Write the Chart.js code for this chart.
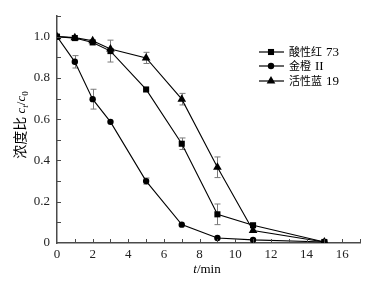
<!DOCTYPE html>
<html>
<head>
<meta charset="utf-8">
<script src="https://cdn.jsdelivr.net/npm/chart.js@4.4.0/dist/chart.umd.min.js"></script>
<style>
  body { margin: 0; background: #fff; }
  #grafico { display: block; }
</style>
</head>
<body>
<canvas id="grafico" width="372" height="283"></canvas>
<script>
// tempo (min)
var tempos = [0, 1, 2, 3, 5, 7, 9, 11, 15];

// c_t/c_0 de cada corante
var acidoVermelho73 = [1.0, 0.993, 0.972, 0.93, 0.744, 0.481, 0.139, 0.086, 0.005];
var laranjaII = [1.0, 0.878, 0.697, 0.587, 0.30, 0.089, 0.024, 0.015, 0.005];
var azulReativo19 = [1.0, 0.995, 0.98, 0.94, 0.897, 0.697, 0.367, 0.06, 0.005];

// barras de erro (0 = sem barra)
var erroVermelho = [0, 0, 0, 0.053, 0, 0.028, 0.05, 0, 0];
var erroLaranja = [0, 0.03, 0.048, 0, 0.015, 0, 0, 0, 0];
var erroAzul = [0, 0, 0, 0, 0.027, 0.028, 0.05, 0, 0];

// nome do corante em duas partes: chinês + número
var nomesCJK = ["酸性红", "金橙", "活性蓝"];
var nomesNum = ["73", "II", "19"];
var ticksX = [0, 2, 4, 6, 8, 10, 12, 14, 16];
var ticksY = [0, 0.2, 0.4, 0.6, 0.8, 1.0];

var series = [
  { valores: acidoVermelho73, erro: erroVermelho, estilo: "rect", raio: 4.3 },
  { valores: laranjaII, erro: erroLaranja, estilo: "circle", raio: 3.2 },
  { valores: azulReativo19, erro: erroAzul, estilo: "triangle", raio: 5 },
];

var corEixo = "#4a4a4a";

function pontos(valores) {
  var lista = [];
  for (var i = 0; i < tempos.length; i++) {
    lista.push({ x: tempos[i], y: valores[i] });
  }
  return lista;
}

function desenharMarcador(ctx, estilo, r, x, y) {
  ctx.beginPath();
  if (estilo == "rect") {
    var s = r * Math.SQRT1_2;
    ctx.rect(x - s, y - s, 2 * s, 2 * s);
  } else if (estilo == "circle") {
    ctx.arc(x, y, r, 0, Math.PI * 2);
  } else {
    ctx.moveTo(x, y - r);
    ctx.lineTo(x + r * 0.866, y + r / 2);
    ctx.lineTo(x - r * 0.866, y + r / 2);
    ctx.closePath();
  }
  ctx.fill();
}

var pluginExtras = {
  id: "extras",
  beforeDatasetsDraw: function (chart) {
    var ctx = chart.ctx;
    var sx = chart.scales.x;
    var sy = chart.scales.y;
    ctx.save();
    ctx.strokeStyle = "#7a7a7a";
    ctx.lineWidth = 1;
    for (var s = 0; s < series.length; s++) {
      for (var i = 0; i < tempos.length; i++) {
        var e = series[s].erro[i];
        if (!e) continue;
        var px = Math.round(sx.getPixelForValue(tempos[i])) + 0.5;
        var topo = sy.getPixelForValue(series[s].valores[i] + e);
        var base = sy.getPixelForValue(series[s].valores[i] - e);
        ctx.beginPath();
        ctx.moveTo(px, topo);
        ctx.lineTo(px, base);
        ctx.moveTo(px - 3, topo);
        ctx.lineTo(px + 3, topo);
        ctx.moveTo(px - 3, base);
        ctx.lineTo(px + 3, base);
        ctx.stroke();
      }
    }
    ctx.restore();
  },
  afterDraw: function (chart) {
    var ctx = chart.ctx;
    var sx = chart.scales.x;
    var sy = chart.scales.y;
    var area = chart.chartArea;
    ctx.save();

    // ticks para dentro
    ctx.strokeStyle = corEixo;
    ctx.lineWidth = 1;
    ctx.beginPath();
    for (var t = 1; t <= 17; t++) {
      var px = Math.round(sx.getPixelForValue(t)) + 0.5;
      ctx.moveTo(px, area.bottom);
      ctx.lineTo(px, area.bottom - 4);
    }
    for (var k = 1; k <= 11; k++) {
      var py = Math.round(sy.getPixelForValue(k / 10)) + 0.5;
      ctx.moveTo(area.left, py);
      ctx.lineTo(area.left + 4, py);
    }
    ctx.stroke();

    // legenda
    ctx.fillStyle = "#000";
    ctx.strokeStyle = "#000";
    ctx.textBaseline = "middle";
    var linhas = [52, 66, 81];
    for (var s = 0; s < series.length; s++) {
      var y = linhas[s];
      ctx.lineWidth = 1.2;
      ctx.beginPath();
      ctx.moveTo(259, y);
      ctx.lineTo(284, y);
      ctx.stroke();
      desenharMarcador(ctx, series[s].estilo, series[s].raio, 271, y);
      ctx.font = '11px "Noto Sans CJK SC", sans-serif';
      ctx.fillText(nomesCJK[s], 289, y);
      var wc = ctx.measureText(nomesCJK[s]).width;
      ctx.font = '13px "Liberation Serif", serif';
      ctx.fillText(nomesNum[s], 289 + wc + 4, y + 1);
    }

    // titulo eixo x: t/min
    ctx.textBaseline = "alphabetic";
    ctx.font = 'italic 13px "Liberation Serif", serif';
    var w1 = ctx.measureText("t").width;
    ctx.font = '13px "Liberation Serif", serif';
    var w2 = ctx.measureText("/min").width;
    var xi = 207 - (w1 + w2) / 2;
    ctx.font = 'italic 13px "Liberation Serif", serif';
    ctx.fillText("t", xi, 273);
    ctx.font = '13px "Liberation Serif", serif';
    ctx.fillText("/min", xi + w1, 273);

    // titulo eixo y: 浓度比 c_t/c_0
    var partes = [
      { txt: "浓度比", fonte: '14px "Noto Sans CJK SC", sans-serif', dy: 0 },
      { txt: " ", fonte: '13px "Liberation Serif", serif', dy: 0 },
      { txt: "c", fonte: 'italic 13px "Liberation Serif", serif', dy: 0 },
      { txt: "t", fonte: 'italic 9px "Liberation Serif", serif', dy: 3 },
      { txt: "/", fonte: '13px "Liberation Serif", serif', dy: 0 },
      { txt: "c", fonte: 'italic 13px "Liberation Serif", serif', dy: 0 },
      { txt: "0", fonte: '9px "Liberation Serif", serif', dy: 3 },
    ];
    var total = 0;
    for (var p = 0; p < partes.length; p++) {
      ctx.font = partes[p].fonte;
      partes[p].w = ctx.measureText(partes[p].txt).width;
      total += partes[p].w;
    }
    ctx.translate(25, 125);
    ctx.rotate(-Math.PI / 2);
    var cx = -total / 2;
    for (var p = 0; p < partes.length; p++) {
      ctx.font = partes[p].fonte;
      ctx.fillText(partes[p].txt, cx, partes[p].dy);
      cx += partes[p].w;
    }
    ctx.restore();
  },
};

var datasets = [];
for (var s = 0; s < series.length; s++) {
  datasets.push({
    label: nomesCJK[s] + " " + nomesNum[s],
    data: pontos(series[s].valores),
    borderColor: "#000",
    backgroundColor: "#000",
    borderWidth: 1.1,
    pointStyle: series[s].estilo,
    pointRadius: series[s].raio,
    pointBackgroundColor: "#000",
    pointBorderColor: "#000",
    pointBorderWidth: 0,
    tension: 0,
    fill: false,
  });
}

var grafico = new Chart(document.getElementById("grafico").getContext("2d"), {
  type: "line",
  data: { datasets: datasets },
  plugins: [pluginExtras],
  options: {
    responsive: false,
    animation: false,
    layout: { padding: { top: 16, right: 12, left: 0, bottom: 0 } },
    plugins: {
      legend: { display: false },
      tooltip: { enabled: false },
    },
    scales: {
      x: {
        type: "linear",
        min: 0,
        max: 17,
        grid: { display: false, drawTicks: false, tickLength: 0 },
        border: { display: true, color: corEixo, width: 1.5 },
        afterBuildTicks: function (scale) {
          scale.ticks = ticksX.map(function (v) { return { value: v }; });
        },
        afterFit: function (scale) {
          scale.height = 40;
        },
        ticks: {
          padding: 4,
          color: "#222",
          maxRotation: 0,
          font: { family: '"Liberation Serif", serif', size: 13 },
        },
      },
      y: {
        type: "linear",
        min: 0,
        max: 1.1,
        grid: { display: false, drawTicks: false, tickLength: 0 },
        border: { display: true, color: corEixo, width: 1.5 },
        afterBuildTicks: function (scale) {
          scale.ticks = ticksY.map(function (v) { return { value: v }; });
        },
        afterFit: function (scale) {
          scale.width = 57;
        },
        ticks: {
          padding: 7,
          color: "#222",
          font: { family: '"Liberation Serif", serif', size: 13 },
          callback: function (v) {
            return v == 0 ? "0" : v.toFixed(1);
          },
        },
      },
    },
  },
});
</script>
</body>
</html>
